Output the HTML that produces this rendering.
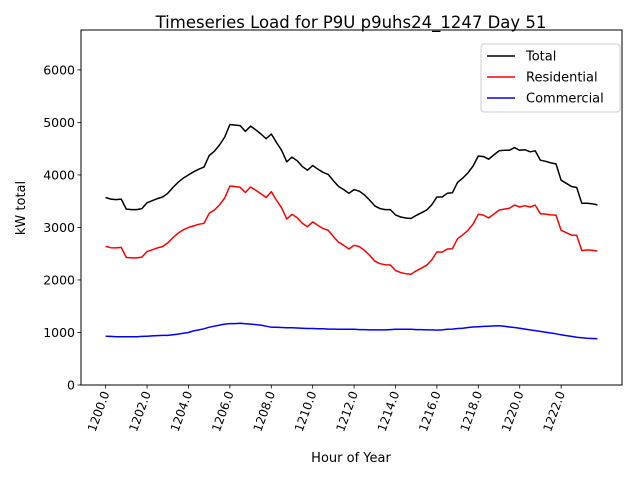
<!DOCTYPE html>
<html><head><meta charset="utf-8"><style>
body{margin:0;background:#fff}
svg{display:block;font-family:"DejaVu Sans","Liberation Sans",sans-serif}
</style></head><body>
<svg id="c" width="640" height="480" xmlns="http://www.w3.org/2000/svg"></svg>
<script>
const hours=[];for(let i=0;i<96;i++)hours.push(1200+i*0.25);
const total=[3570,3540,3530,3540,3350,3340,3340,3360,3470,3510,3550,3580,3650,3760,3860,3940,4000,4060,4110,4150,4370,4450,4570,4720,4960,4950,4940,4830,4930,4860,4780,4690,4780,4620,4470,4250,4340,4270,4160,4090,4180,4110,4050,4010,3890,3780,3720,3650,3720,3690,3620,3520,3410,3360,3340,3340,3240,3200,3180,3170,3230,3280,3330,3430,3580,3580,3650,3660,3860,3940,4040,4170,4360,4350,4300,4380,4460,4470,4470,4520,4470,4480,4440,4460,4280,4260,4230,4210,3900,3840,3780,3760,3460,3460,3450,3430];
const residential=[2640,2615,2610,2620,2430,2420,2420,2435,2540,2575,2610,2635,2705,2805,2890,2955,3000,3030,3060,3080,3270,3330,3430,3560,3790,3780,3765,3665,3770,3710,3640,3570,3680,3520,3375,3160,3250,3185,3080,3015,3105,3040,2980,2945,2825,2720,2660,2590,2660,2635,2565,2470,2360,2310,2290,2285,2180,2140,2120,2110,2175,2225,2280,2380,2535,2530,2590,2595,2785,2860,2945,3065,3250,3235,3180,3255,3330,3350,3365,3425,3390,3415,3390,3425,3260,3255,3240,3235,2945,2900,2855,2850,2560,2570,2565,2550];
const commercial=[930,925,920,920,920,920,920,925,930,935,940,945,945,955,970,985,1000,1030,1050,1070,1100,1120,1140,1160,1170,1170,1175,1165,1160,1150,1140,1120,1100,1100,1095,1090,1090,1085,1080,1075,1075,1070,1070,1065,1065,1060,1060,1060,1060,1055,1055,1050,1050,1050,1050,1055,1060,1060,1060,1060,1055,1055,1050,1050,1045,1050,1060,1065,1075,1080,1095,1105,1110,1115,1120,1125,1130,1120,1105,1095,1080,1065,1050,1035,1020,1005,990,975,955,940,925,910,900,890,885,880];
const xTicks=[1200,1202,1204,1206,1208,1210,1212,1214,1216,1218,1220,1222];
const yTicks=[0,1000,2000,3000,4000,5000,6000];
const seriesNames=["Total","Residential","Commercial"];
const seriesColors=["#000000","#ff0000","#0000ff"];

const L=81,R=622,T=30,B=385;
const xmin=1198.81,xmax=1224.94,ymin=0,ymax=6760;
const X=v=>L+(v-xmin)/(xmax-xmin)*(R-L);
const Y=v=>B-(v-ymin)/(ymax-ymin)*(B-T);
const svg=document.getElementById('c');
const NS="http://www.w3.org/2000/svg";
function mk(tag,attrs,parent){const e=document.createElementNS(NS,tag);for(const k in attrs)e.setAttribute(k,attrs[k]);(parent||svg).appendChild(e);return e;}

const bg=mk('rect',{x:L,y:T,width:R-L,height:B-T,fill:'#fff',stroke:'#000','stroke-width':1});



const data=[total,residential,commercial];
data.forEach((s,k)=>{
  const p=mk('polyline',{points:s.map((v,i)=>X(hours[i]).toFixed(1)+','+Y(v).toFixed(1)).join(' '),fill:'none',stroke:seriesColors[k],'stroke-width':1.5,'stroke-linejoin':'round'});
  
  
});

xTicks.forEach(t=>{
  const x=X(t);
  mk('line',{x1:x,x2:x,y1:B,y2:B+3.5,stroke:'#000','stroke-width':0.8});
  const tx=mk('text',{x:x+4,y:B+8,'font-size':12,'text-anchor':'end',transform:`rotate(-70 ${x+4} ${B+8})`});
  tx.textContent=t.toFixed(1);
  
  
});
yTicks.forEach(t=>{
  const y=Y(t);
  mk('line',{x1:L-3.5,x2:L,y1:y,y2:y,stroke:'#000','stroke-width':0.8});
  const tx=mk('text',{x:L-6,y:y+4.5,'font-size':12.5,'text-anchor':'end'});
  tx.textContent=t;
  
  
});

const title=mk('text',{x:351,y:28,'font-size':16.5,'text-anchor':'middle'});
title.textContent='Timeseries Load for P9U p9uhs24_1247  Day 51';


const xl=mk('text',{x:351,y:462,'font-size':13,'text-anchor':'middle'});
xl.textContent='Hour of Year';


const yl=mk('text',{x:25,y:208,'font-size':13,'text-anchor':'middle',transform:'rotate(-90 25 208)'});
yl.textContent='kW total';



const lg=mk('g',{});


mk('rect',{x:481,y:44,width:139,height:68,rx:3,fill:'#fff',stroke:'#ccc','stroke-width':1},lg);
seriesNames.forEach((n,i)=>{
  const y=56+i*21;
  mk('line',{x1:487,x2:515,y1:y,y2:y,stroke:seriesColors[i],'stroke-width':1.5},lg);
  const t=mk('text',{x:526,y:y+4.5,'font-size':13},lg);
  t.textContent=n;
  
  
});
</script>
</body></html>
